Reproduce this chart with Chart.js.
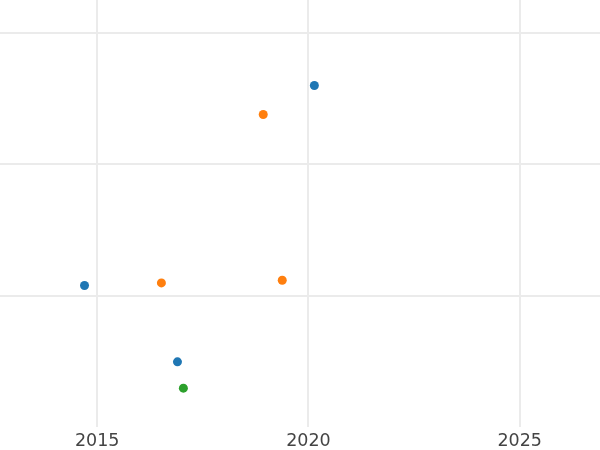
<!DOCTYPE html>
<html>
<head>
<meta charset="utf-8">
<script src="https://cdn.jsdelivr.net/npm/chart.js@4/dist/chart.umd.min.js"></script>
<style>
html,body{margin:0;padding:0;background:#fff;}
#wrap{width:600px;height:450px;}
</style>
</head>
<body>
<div id="wrap"><canvas id="c"></canvas></div>
<script>
const blueX = [2020.14, 2014.70, 2016.90];
const blueY = [2.60, 1.08, 0.50];
const orangeX = [2018.93, 2016.52, 2019.38];
const orangeY = [2.38, 1.10, 1.12];
const greenX = [2017.04];
const greenY = [0.30];
const xTickStep = 5;

function pts(xs, ys){ return xs.map((x,i)=>({x:x, y:ys[i]})); }

new Chart(document.getElementById('c'), {
  type: 'scatter',
  data: {
    datasets: [
      {data: pts(blueX, blueY), backgroundColor:'#1f77b4', borderColor:'#1f77b4', pointRadius:4.5, pointBorderWidth:0},
      {data: pts(orangeX, orangeY), backgroundColor:'#ff7f0e', borderColor:'#ff7f0e', pointRadius:4.5, pointBorderWidth:0},
      {data: pts(greenX, greenY), backgroundColor:'#2ca02c', borderColor:'#2ca02c', pointRadius:4.5, pointBorderWidth:0}
    ]
  },
  options: {
    responsive: true,
    maintainAspectRatio: false,
    animation: false,
    layout: {padding: 0, autoPadding: false},
    plugins: {legend:{display:false}, tooltip:{enabled:false}},
    scales: {
      x: {
        type: 'linear',
        min: 2012.7, max: 2026.9,
        afterFit: s => { s.height = 23; },
        grid: {color:'#ebebeb', lineWidth:2, drawTicks:false},
        border: {display:false},
        ticks: {stepSize: xTickStep, includeBounds:false, padding:4, color:'#444', font:{family:'DejaVu Sans', size:17.5}, callback: v => String(v)}
      },
      y: {
        min: 0.005, max: 3.25,
        grid: {color:'#ebebeb', lineWidth:2, drawTicks:false},
        border: {display:false},
        ticks: {display:false, stepSize:1, includeBounds:false}
      }
    }
  }
});
</script>
</body>
</html>
